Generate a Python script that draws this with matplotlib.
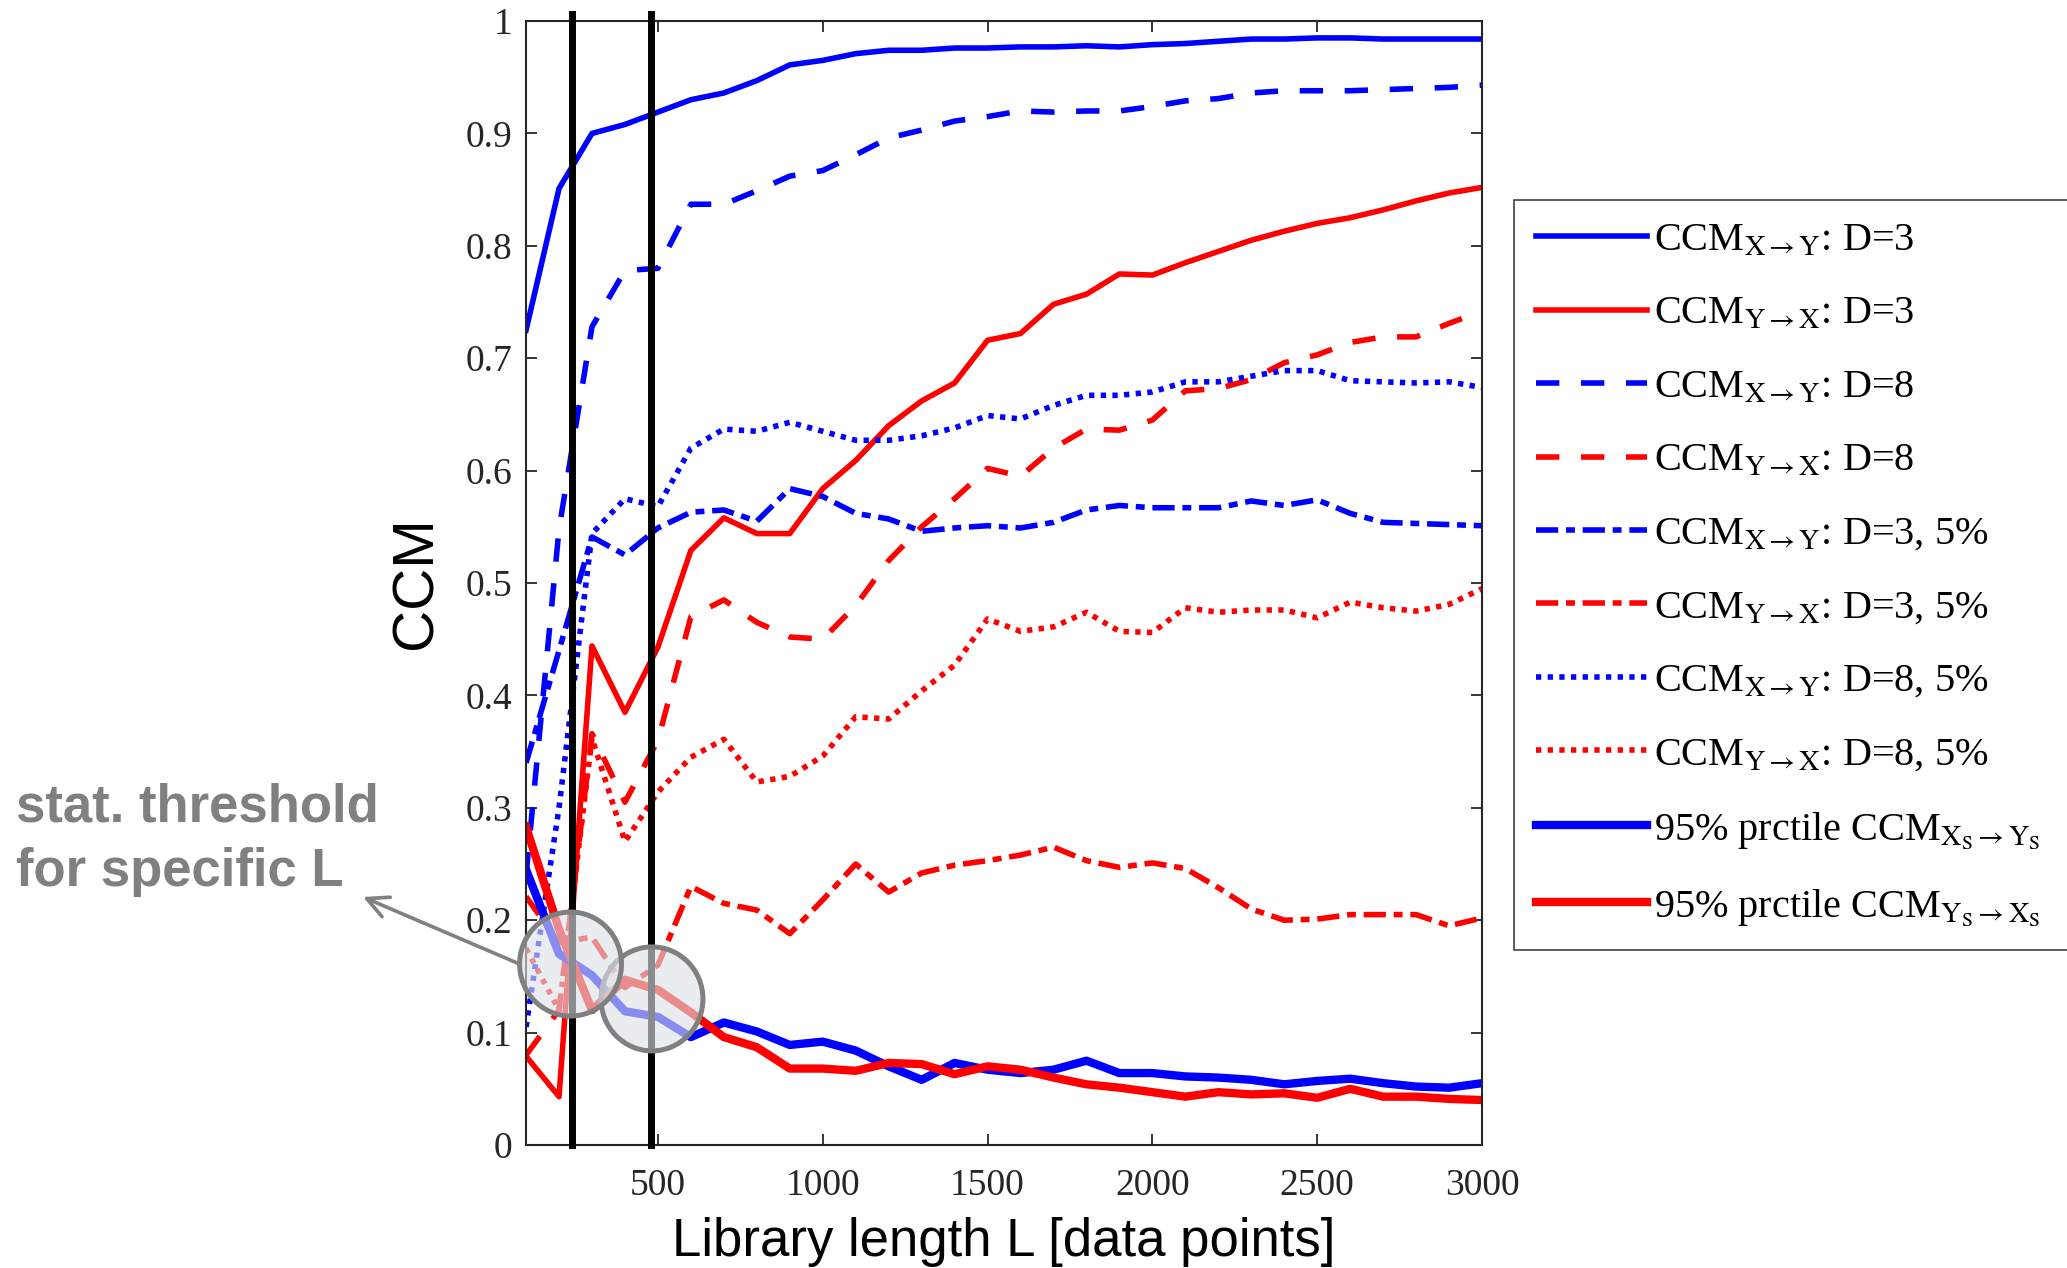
import numpy as np
import matplotlib.pyplot as plt
from matplotlib.patches import Ellipse

plt.rcParams['font.family'] = ['Liberation Serif', 'DejaVu Serif']
plt.rcParams['mathtext.fontset'] = 'stix'

# library lengths (data points)
lib_len = np.arange(100, 3001, 100)

# CCM X->Y / Y->X, embedding dimension D=3 and D=8
ccm_xy_d3 = [0.725, 0.851, 0.900, 0.908, 0.919, 0.930, 0.936, 0.947, 0.961, 0.965,
             0.971, 0.974, 0.974, 0.976, 0.976, 0.977, 0.977, 0.978, 0.977, 0.979,
             0.980, 0.982, 0.984, 0.984, 0.985, 0.985, 0.984, 0.984, 0.984, 0.984]
ccm_yx_d3 = [0.079, 0.043, 0.444, 0.385, 0.443, 0.529, 0.558, 0.544, 0.544, 0.584,
             0.609, 0.640, 0.662, 0.678, 0.716, 0.722, 0.748, 0.757, 0.775, 0.774,
             0.785, 0.795, 0.805, 0.813, 0.820, 0.825, 0.832, 0.840, 0.847, 0.852]
ccm_xy_d8 = [0.240, 0.548, 0.728, 0.778, 0.780, 0.837, 0.837, 0.849, 0.862, 0.867,
             0.881, 0.896, 0.903, 0.911, 0.915, 0.920, 0.919, 0.920, 0.920, 0.924,
             0.929, 0.931, 0.936, 0.938, 0.938, 0.938, 0.939, 0.940, 0.941, 0.943]
ccm_yx_d8 = [0.080, 0.120, 0.366, 0.305, 0.360, 0.470, 0.485, 0.465, 0.452, 0.450,
             0.480, 0.520, 0.550, 0.575, 0.602, 0.595, 0.620, 0.637, 0.636, 0.645,
             0.671, 0.673, 0.681, 0.696, 0.703, 0.714, 0.719, 0.719, 0.731, 0.742]

# same with 5% noise
ccm_xy_d3_n = [0.340, 0.440, 0.541, 0.525, 0.549, 0.563, 0.565, 0.555, 0.584, 0.577,
               0.562, 0.557, 0.546, 0.549, 0.551, 0.549, 0.554, 0.565, 0.569, 0.567,
               0.567, 0.567, 0.573, 0.569, 0.574, 0.562, 0.554, 0.553, 0.552, 0.551]
ccm_yx_d3_n = [0.221, 0.180, 0.185, 0.140, 0.160, 0.230, 0.215, 0.209, 0.188, 0.218,
               0.250, 0.225, 0.242, 0.249, 0.253, 0.258, 0.265, 0.253, 0.247, 0.251,
               0.246, 0.229, 0.210, 0.200, 0.201, 0.205, 0.205, 0.205, 0.195, 0.202]
ccm_xy_d8_n = [0.105, 0.300, 0.544, 0.575, 0.568, 0.620, 0.637, 0.635, 0.643, 0.635,
               0.627, 0.627, 0.631, 0.638, 0.649, 0.646, 0.658, 0.667, 0.667, 0.670,
               0.679, 0.679, 0.684, 0.689, 0.689, 0.680, 0.679, 0.678, 0.679, 0.674]
ccm_yx_d8_n = [0.175, 0.120, 0.362, 0.270, 0.314, 0.345, 0.361, 0.323, 0.328, 0.346,
               0.381, 0.379, 0.404, 0.427, 0.468, 0.457, 0.461, 0.474, 0.457, 0.456,
               0.478, 0.474, 0.476, 0.476, 0.469, 0.483, 0.478, 0.475, 0.481, 0.495]

# 95% percentile of surrogates
prc_xy = [0.245, 0.170, 0.151, 0.119, 0.114, 0.096, 0.109, 0.101, 0.089, 0.092,
          0.084, 0.070, 0.058, 0.073, 0.067, 0.064, 0.067, 0.075, 0.064, 0.064,
          0.061, 0.060, 0.058, 0.054, 0.057, 0.059, 0.055, 0.052, 0.051, 0.055]
prc_yx = [0.283, 0.192, 0.120, 0.147, 0.138, 0.118, 0.096, 0.087, 0.068, 0.068,
          0.066, 0.073, 0.072, 0.063, 0.070, 0.067, 0.060, 0.054, 0.051, 0.047,
          0.043, 0.047, 0.045, 0.046, 0.042, 0.050, 0.043, 0.043, 0.041, 0.040]

# specific library lengths marked by vertical lines / circles
marked_L = [240, 480]
circle_L = [235, 482]
circle_v = [0.161, 0.130]

dashed = (0, (4.2, 3.9))
dashdot = (0, (4.0, 1.4, 1.6, 1.4))
dotted = (0, (0.95, 1.15))

fig = plt.figure(figsize=(20.67, 12.68), dpi=100)
ax = fig.add_axes([0.2545, 0.097, 0.4625, 0.8864])

lw = 4.0
ax.plot(lib_len, ccm_xy_d3, color='b', lw=lw, label=r'CCM$_{\mathrm{X\rightarrow Y}}$: D=3')
ax.plot(lib_len, ccm_yx_d3, color='r', lw=lw, label=r'CCM$_{\mathrm{Y\rightarrow X}}$: D=3')
ax.plot(lib_len, ccm_xy_d8, color='b', lw=lw, ls=dashed, label=r'CCM$_{\mathrm{X\rightarrow Y}}$: D=8')
ax.plot(lib_len, ccm_yx_d8, color='r', lw=lw, ls=dashed, label=r'CCM$_{\mathrm{Y\rightarrow X}}$: D=8')
ax.plot(lib_len, ccm_xy_d3_n, color='b', lw=lw, ls=dashdot, label=r'CCM$_{\mathrm{X\rightarrow Y}}$: D=3, 5%')
ax.plot(lib_len, ccm_yx_d3_n, color='r', lw=lw, ls=dashdot, label=r'CCM$_{\mathrm{Y\rightarrow X}}$: D=3, 5%')
ax.plot(lib_len, ccm_xy_d8_n, color='b', lw=lw, ls=dotted, label=r'CCM$_{\mathrm{X\rightarrow Y}}$: D=8, 5%')
ax.plot(lib_len, ccm_yx_d8_n, color='r', lw=lw, ls=dotted, label=r'CCM$_{\mathrm{Y\rightarrow X}}$: D=8, 5%')
ax.plot(lib_len, prc_xy, color='b', lw=6, label=r'95% prctile CCM$_{\mathrm{X_S\rightarrow Y_S}}$')
ax.plot(lib_len, prc_yx, color='r', lw=6, label=r'95% prctile CCM$_{\mathrm{Y_S\rightarrow X_S}}$')

for L in marked_L:
    ax.axvline(L, ymax=1.006, color='k', lw=5, zorder=5, clip_on=False)

ew = 2 * 51 / 0.33
eh = 2 * 52 / 1124
for cl, cv in reversed(list(zip(circle_L, circle_v))):
    ax.add_patch(Ellipse((cl, cv), ew, eh, facecolor=(0.87, 0.89, 0.90, 0.62),
                         edgecolor='#808080', lw=3.6, zorder=6, clip_on=False))

ax.set_xlim(100, 3000)
ax.set_ylim(0, 1)
ax.set_xticks(np.arange(500, 3001, 500))
yt = np.round(np.arange(0, 1.01, 0.1), 1)
ax.set_yticks(yt)
ax.set_yticklabels(['0' if v == 0 else ('1' if v == 1 else '%g' % v) for v in yt])
ax.tick_params(direction='in', top=True, right=True, length=8, width=1.3,
               labelsize=27, colors='#262626', pad=10)
ax.tick_params(axis='x', pad=17)
for s in ax.spines.values():
    s.set_color('#262626')
    s.set_linewidth(1.5)

ax.set_xlabel('Library length L [data points]', family='Liberation Sans', fontsize=38, labelpad=10)
ax.set_ylabel('CCM', family='Liberation Sans', fontsize=42, labelpad=16)

# legend box runs past the right edge of the figure, as in the original
x0 = 1514 / 2067
y1 = 1 - 200 / 1268
leg = fig.legend(loc='upper left', bbox_to_anchor=(x0, y1 - 0.6, 1.03 - x0, 0.6), mode='expand',
                 borderaxespad=0, fontsize=29, handlelength=2.75, handletextpad=0.18,
                 labelspacing=0.9, borderpad=0.55, fancybox=False, framealpha=1)
leg.get_frame().set_edgecolor('#404040')
leg.get_frame().set_linewidth(1.2)

# annotation for the threshold circles
fig.text(16 / 2067, 1 - 783 / 1268, 'stat. threshold\nfor specific L', family='Liberation Sans',
         fontsize=38, fontweight='bold', color='#808080', va='top', ha='left', linespacing=1.35)
ax.annotate('', xy=(363, 1268 - 897), xycoords='figure pixels',
            xytext=(circle_L[0] - ew / 2, circle_v[0]), textcoords='data',
            arrowprops=dict(arrowstyle='->', color='#808080', lw=2.6, mutation_scale=38,
                            shrinkA=0, shrinkB=0), zorder=7)

fig.savefig('out.png', dpi=100)
plt.close(fig)
